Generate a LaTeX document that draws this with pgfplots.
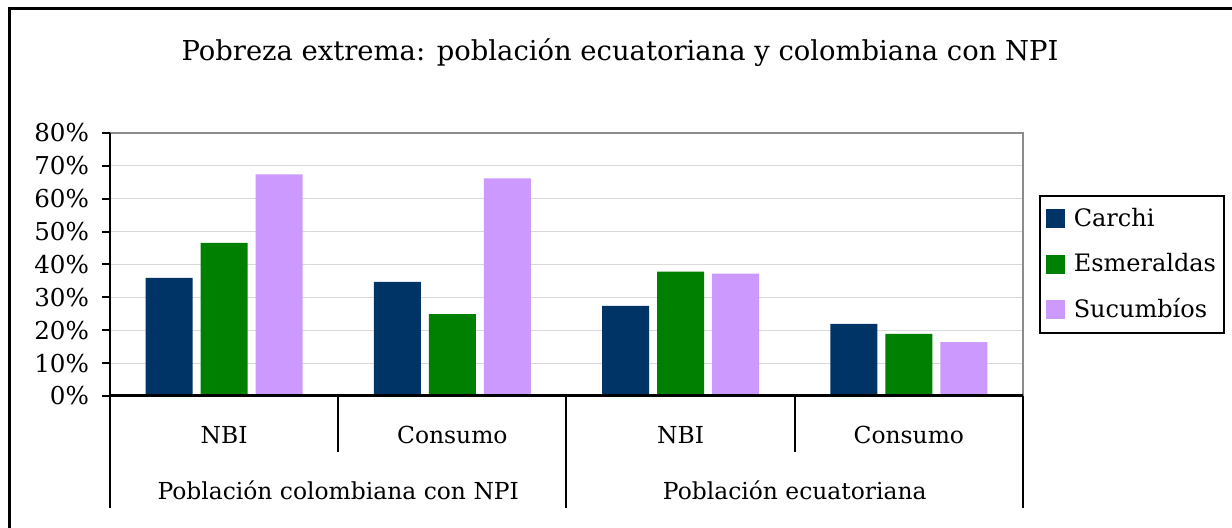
\documentclass[border=0pt]{standalone}
\usepackage{pgfplots}
\pgfplotsset{compat=1.18}
\usepackage{fontspec}
\setmainfont{DejaVu Serif}
\definecolor{cCarchi}{HTML}{003366}
\definecolor{cEsm}{HTML}{008000}
\definecolor{cSuc}{HTML}{CC99FF}
\definecolor{gridc}{HTML}{D9D9D9}
\begin{document}
\begin{tikzpicture}
\useasboundingbox (0,0) rectangle (616pt,264pt);
\draw[line width=1.5pt] (4.5pt,-2pt) -- (4.5pt,259.5pt) -- (620pt,259.5pt);
\node[font=\fontsize{13.7pt}{16pt}\selectfont] at (310pt,237.5pt) {Pobreza extrema: población ecuatoriana y colombiana con NPI};
\begin{axis}[
  at={(55pt,66pt)}, anchor=south west,
  scale only axis, width=456.5pt, height=131.5pt,
  xmin=-0.5, xmax=3.5, ymin=0, ymax=80,
  axis line style={draw=none},
  clip=false,
  xtick={0,1,2,3},
  xticklabels={NBI,Consumo,NBI,Consumo},
  x tick style={draw=none},
  xticklabel style={anchor=base, yshift=-20pt, font=\fontsize{11.7pt}{13pt}\selectfont},
  ytick={0,10,...,80}, ytick pos=left,
  yticklabel={\pgfmathprintnumber{\tick}\%},
  yticklabel style={font=\fontsize{12.3pt}{14pt}\selectfont, xshift=-3pt},
  /pgf/number format/assume math mode=true,
  y tick style={black, line width=1pt},
  tick align=outside, major tick length=4pt,
  ymajorgrids, grid style={gridc, line width=0.5pt},
  ybar, bar width=0.206,
  legend style={at={(1.0175,0.50)}, anchor=west, draw=black, line width=0.8pt,
    font=\fontsize{12pt}{14pt}\selectfont, row sep=8pt, inner ysep=4pt, inner xsep=2pt,
    nodes={inner sep=2pt}},
  legend cell align=left,
  legend image code/.code={\fill[#1] (1pt,-4.75pt) rectangle (10.5pt,4.75pt); \path (0pt,0pt) (13pt,0pt);},
]
\addplot[fill=cCarchi, draw=none, bar shift=-0.241] coordinates {(0,35.9) (1,34.7) (2,27.4) (3,21.9)};
\addplot[fill=cEsm, draw=none, bar shift=0] coordinates {(0,46.6) (1,24.9) (2,37.8) (3,18.9)};
\addplot[fill=cSuc, draw=none, bar shift=0.241] coordinates {(0,67.4) (1,66.2) (2,37.2) (3,16.4)};
\legend{Carchi,Esmeraldas,Sucumbíos}
\draw[gray!90, line width=1pt] (axis cs:-0.5,80) -- (axis cs:3.5,80) -- (axis cs:3.5,0);
\draw[black, line width=1pt] (axis cs:-0.5,0) -- (axis cs:-0.5,80);
\draw[black, line width=1.5pt] (axis cs:-0.5,0) -- (axis cs:3.5,0);
\draw[black, line width=1pt] (axis cs:-0.5,0) -- ([yshift=-56pt]axis cs:-0.5,0);
\draw[black, line width=1pt] (axis cs:1.5,0) -- ([yshift=-56pt]axis cs:1.5,0);
\draw[black, line width=1pt] (axis cs:3.5,0) -- ([yshift=-56pt]axis cs:3.5,0);
\draw[black, line width=1pt] (axis cs:0.5,0) -- ([yshift=-28pt]axis cs:0.5,0);
\draw[black, line width=1pt] (axis cs:2.5,0) -- ([yshift=-28pt]axis cs:2.5,0);
\node[anchor=base, font=\fontsize{11.7pt}{13pt}\selectfont] at ([yshift=-52pt]axis cs:0.5,0) {Población colombiana con NPI};
\node[anchor=base, font=\fontsize{11.7pt}{13pt}\selectfont] at ([yshift=-52pt]axis cs:2.5,0) {Población ecuatoriana};
\end{axis}
\end{tikzpicture}
\end{document}
